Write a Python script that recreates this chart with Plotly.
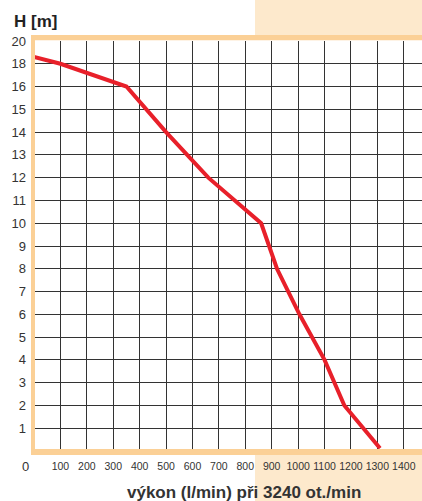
import numpy as np
import plotly.graph_objects as go

# ---- data ----
flow_lpm = [0, 100, 350, 500, 660, 860, 920, 1005, 1100, 1175, 1310]
head_m = [18.6, 18.0, 16.0, 14.0, 12.0, 10.0, 8.0, 6.0, 4.0, 2.0, 0.12]

x_ticks = [100, 200, 300, 400, 500, 600, 700, 800, 900, 1000, 1100, 1200, 1300, 1400]
x_tick_labels = [str(v) for v in x_ticks]

# y grid lines are evenly spaced, but labelled non-linearly
y_grid_values = [0, 1, 2, 3, 4, 5, 6, 7, 8, 9, 10, 11, 12, 13, 14, 15, 16, 18, 20]
y_tick_labels = [""] + [str(v) for v in y_grid_values[1:]]

x_title = "výkon (l/min) při 3240 ot./min"
y_title = "H [m]"

# ---- layout constants ----
W, H = 422, 501
L, T = 34, 41
B = H - 451
R = 0
PW, PH = W - L - R, H - T - B

grid_pos = list(range(len(y_grid_values)))
y_pos = np.interp(head_m, y_grid_values, grid_pos)

RED = "#e8202a"
GRID = "#333333"
ORANGE = "#fbd096"
PEACH = "#fde9cc"
TXT = "#333333"
NARROW = "Liberation Sans Narrow, Arial Narrow, Liberation Sans, sans-serif"


def px(x):
    return (x - L) / PW


def py(y):
    return (451 - y) / PH


fig = go.Figure()
fig.add_trace(go.Scatter(x=flow_lpm, y=y_pos, mode="lines",
                         line=dict(color=RED, width=4), hoverinfo="skip",
                         showlegend=False))

shapes = []
# light peach background regions outside the plot
shapes.append(dict(type="rect", xref="paper", yref="paper", x0=px(255), x1=px(430),
                   y0=py(35), y1=py(-5), fillcolor=PEACH, line_width=0, layer="below"))
shapes.append(dict(type="rect", xref="paper", yref="paper", x0=px(255), x1=px(430),
                   y0=py(506), y1=py(455), fillcolor=PEACH, line_width=0, layer="below"))
# orange frame strips
shapes.append(dict(type="rect", xref="paper", yref="paper", x0=px(31), x1=px(430),
                   y0=py(40.3), y1=py(35), fillcolor=ORANGE, line_width=0, layer="above"))
shapes.append(dict(type="rect", xref="paper", yref="paper", x0=px(31), x1=px(35),
                   y0=py(455), y1=py(35), fillcolor=ORANGE, line_width=0, layer="above"))
shapes.append(dict(type="rect", xref="paper", yref="paper", x0=px(31), x1=px(430),
                   y0=py(455), y1=py(449), fillcolor=ORANGE, line_width=0, layer="above"))

annotations = [
    dict(text="<b>" + y_title + "</b>", xref="paper", yref="paper", x=px(12), y=py(22),
         xanchor="left", yanchor="middle", showarrow=False,
         font=dict(family="Liberation Sans, Arial, sans-serif", size=17, color="#222222")),
    dict(text="0", xref="paper", yref="paper", x=px(25.5), y=py(466.5),
         xanchor="center", yanchor="middle", showarrow=False,
         font=dict(family=NARROW, size=13, color=TXT)),
    dict(text="<b>" + x_title + "</b>", xref="paper", yref="paper",
         x=px(244.5), y=py(492), xanchor="center", yanchor="middle", showarrow=False,
         font=dict(family="Liberation Sans, Arial, sans-serif", size=17, color=TXT)),
]

fig.update_layout(
    width=W, height=H,
    margin=dict(l=L, r=R, t=T, b=B, pad=0, autoexpand=False),
    paper_bgcolor="white", plot_bgcolor="white",
    shapes=shapes, annotations=annotations,
    showlegend=False,
)
fig.update_xaxes(range=[0, 1469], tickvals=x_ticks, ticktext=x_tick_labels,
                 showgrid=True, gridcolor=GRID, gridwidth=1.4, zeroline=False,
                 showline=False, ticks="", tickangle=0, automargin=False,
                 ticklabelstandoff=7,
                 tickfont=dict(family=NARROW, size=10.5, color=TXT))
fig.update_yaxes(range=[0, 18], tickvals=grid_pos, ticktext=y_tick_labels,
                 showgrid=True, gridcolor=GRID, gridwidth=1.4, zeroline=False,
                 showline=False, ticks="", automargin=False,
                 ticklabelstandoff=7,
                 tickfont=dict(family=NARROW, size=13, color=TXT))

fig.write_html(
    "out.html",
    config={"displayModeBar": False},
    post_script="document.body.style.margin='0';document.body.style.overflow='hidden';",
)
